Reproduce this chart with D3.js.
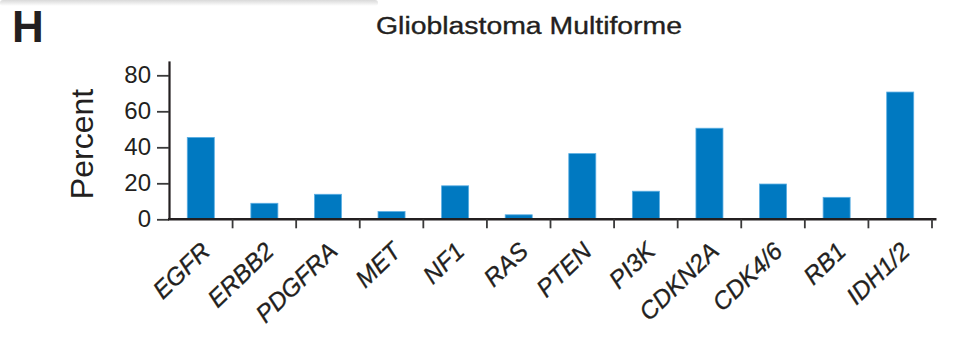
<!DOCTYPE html>
<html>
<head>
<meta charset="utf-8">
<script src="https://cdn.jsdelivr.net/npm/d3@7"></script>
<style>
  html, body { margin: 0; padding: 0; background: #fff; }
  svg { display: block; }
  text { font-family: "Liberation Sans", Arial, Helvetica, sans-serif; fill: #231f20; }
</style>
</head>
<body>
<svg id="chart" width="961" height="346"></svg>
<script>
// Alteration frequency by gene
const genes = ["EGFR", "ERBB2", "PDGFRA", "MET", "NF1", "RAS", "PTEN", "PI3K", "CDKN2A", "CDK4/6", "RB1", "IDH1/2"];
const percents = [45.5, 8.9, 13.9, 4.3, 18.6, 2.5, 36.5, 15.6, 50.6, 19.6, 12.2, 70.7];
const yTicks = [0, 20, 40, 60, 80];
const panelLabel = "H";
const title = "Glioblastoma Multiforme";
const yLabel = "Percent";

const svg = d3.select("#chart");
const axisColor = "#231f20";
const barColor = "#0079c1";

// faint shadow strip along the top edge
const defs = svg.append("defs");
const grad = defs.append("linearGradient").attr("id", "topShade")
  .attr("x1", 0).attr("y1", 0).attr("x2", 0).attr("y2", 1);
grad.append("stop").attr("offset", "0%").attr("stop-color", "#d9d9d9");
grad.append("stop").attr("offset", "100%").attr("stop-color", "#ffffff");
svg.append("rect").attr("x", 0).attr("y", 0).attr("width", 378).attr("height", 6)
  .attr("rx", 3).attr("fill", "url(#topShade)");

const left = 169, right = 932, baseY = 219.3, topY = 60.9;

const x = d3.scaleBand().domain(genes).range([left, right]).paddingInner(0.575).paddingOuter(0.2875);
const y = d3.scaleLinear().domain([0, 88]).range([baseY, topY]);

// panel letter and title
svg.append("text").attr("x", 12).attr("y", 42)
  .attr("font-size", 44).attr("font-weight", "bold").text(panelLabel);
svg.append("text").attr("x", 529).attr("y", 34.3)
  .attr("text-anchor", "middle").attr("font-size", 23.5)
  .attr("textLength", 306).attr("lengthAdjust", "spacingAndGlyphs")
  .style("stroke", axisColor).style("stroke-width", 0.35)
  .text(title);

// bars
svg.append("g").selectAll("rect").data(genes).join("rect")
  .attr("x", d => x(d))
  .attr("width", x.bandwidth())
  .attr("y", (d, i) => y(percents[i]))
  .attr("height", (d, i) => baseY - y(percents[i]))
  .attr("fill", barColor)
  .attr("stroke", "#5aaee3").attr("stroke-width", 0.8);

// y axis
const yAxis = svg.append("g").attr("transform", `translate(${left},0)`)
  .call(d3.axisLeft(y).tickValues(yTicks).tickSize(12).tickSizeOuter(0).tickPadding(6));
yAxis.select(".domain").attr("stroke", axisColor).attr("stroke-width", 2.2);
yAxis.selectAll(".tick line").attr("stroke", "#3a3a3a").attr("stroke-width", 1.8);
yAxis.selectAll(".tick text").attr("font-size", 24).attr("fill", axisColor)
  .attr("font-family", "'Liberation Sans', Arial, sans-serif");

// x axis: baseline with ticks between categories
const step = x.step();
const boundaries = genes.map((g, i) => left + (i + 1) * step);
svg.append("line").attr("x1", left - 1).attr("x2", right + 4.5)
  .attr("y1", baseY).attr("y2", baseY)
  .attr("stroke", axisColor).attr("stroke-width", 2.4);
svg.append("g").selectAll("line").data(boundaries).join("line")
  .attr("x1", d => d).attr("x2", d => d)
  .attr("y1", baseY).attr("y2", baseY + 9)
  .attr("stroke", "#3a3a3a").attr("stroke-width", 1.8);

// rotated category labels
svg.append("g").selectAll("text").data(genes).join("text")
  .attr("transform", d => `translate(${x(d) + x.bandwidth() / 2 + 11},253) rotate(-44)`)
  .attr("text-anchor", "end")
  .attr("font-size", 24.5)
  .attr("font-style", "italic")
  .style("stroke", axisColor).style("stroke-width", 0.3)
  .text(d => d);

// y axis title
svg.append("text")
  .attr("transform", `translate(93,144) rotate(-90)`)
  .attr("text-anchor", "middle")
  .attr("font-size", 32)
  .text(yLabel);
</script>
</body>
</html>
